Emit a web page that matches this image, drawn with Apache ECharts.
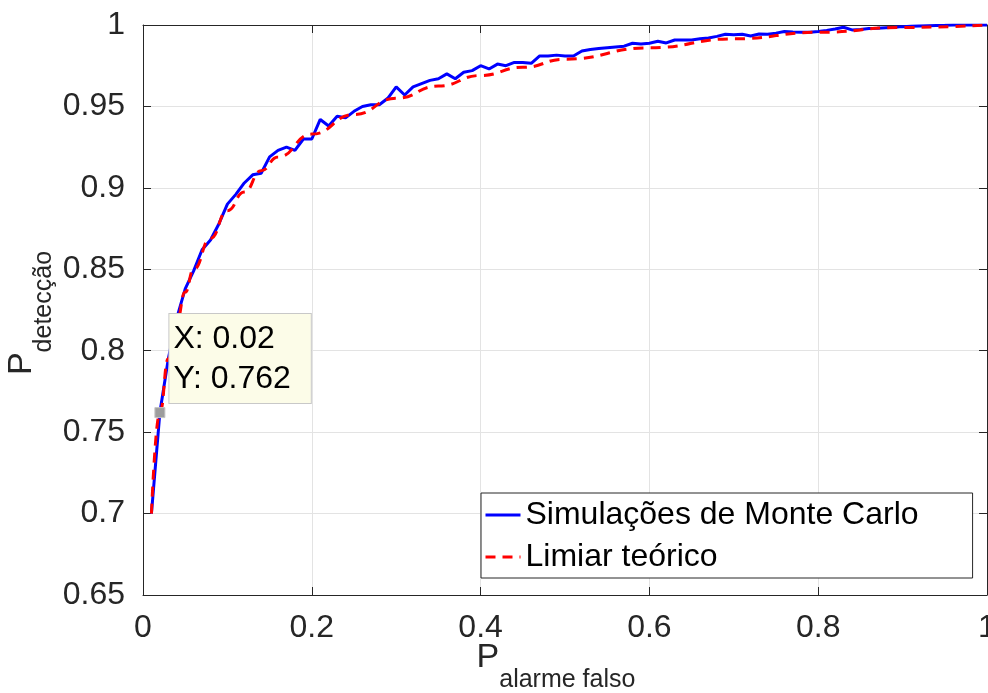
<!DOCTYPE html>
<html>
<head>
<meta charset="utf-8">
<title>Curva ROC</title>
<script src="https://cdn.jsdelivr.net/npm/echarts@6/dist/echarts.min.js"></script>
<style>
  html, body { margin: 0; padding: 0; background: #ffffff; }
  #chart { width: 988px; height: 693px; }
</style>
</head>
<body>
<div id="chart"></div>
<script>
// Probabilidade de alarme falso usada nas simulações
const simX = [
  0.01, 0.02, 0.03, 0.04, 0.05, 0.06, 0.07, 0.08, 0.09, 0.10,
  0.11, 0.12, 0.13, 0.14, 0.15, 0.16, 0.17, 0.18, 0.19, 0.20,
  0.21, 0.22, 0.23, 0.24, 0.25, 0.26, 0.27, 0.28, 0.29, 0.30,
  0.31, 0.32, 0.33, 0.34, 0.35, 0.36, 0.37, 0.38, 0.39, 0.40,
  0.41, 0.42, 0.43, 0.44, 0.45, 0.46, 0.47, 0.48, 0.49, 0.50,
  0.51, 0.52, 0.53, 0.54, 0.55, 0.56, 0.57, 0.58, 0.59, 0.60,
  0.61, 0.62, 0.63, 0.64, 0.65, 0.66, 0.67, 0.68, 0.69, 0.70,
  0.71, 0.72, 0.73, 0.74, 0.75, 0.76, 0.77, 0.78, 0.79, 0.80,
  0.81, 0.82, 0.83, 0.84, 0.85, 0.86, 0.87, 0.88, 0.89, 0.90,
  0.91, 0.92, 0.93, 0.94, 0.95, 0.96, 0.97, 0.98, 0.99, 1.00
];

// Probabilidade de detecção estimada (Monte Carlo)
const simY = [
  0.700, 0.762, 0.795, 0.820, 0.838, 0.849, 0.862, 0.868, 0.878, 0.890,
  0.896, 0.903, 0.908, 0.909, 0.919, 0.923, 0.925, 0.923, 0.930, 0.930,
  0.942, 0.938, 0.944, 0.943, 0.947, 0.950, 0.951, 0.951, 0.955, 0.962,
  0.957, 0.962, 0.964, 0.966, 0.967, 0.970, 0.967, 0.971, 0.972, 0.975,
  0.973, 0.976, 0.975, 0.977, 0.977, 0.9765, 0.981, 0.981, 0.9815, 0.981,
  0.981, 0.984, 0.985, 0.9855, 0.986, 0.9865, 0.987, 0.9888, 0.9883, 0.9888,
  0.990, 0.989, 0.9908, 0.9908, 0.9908, 0.9915, 0.992, 0.993, 0.9943, 0.994,
  0.9943, 0.9932, 0.9945, 0.9943, 0.995, 0.996, 0.9957, 0.9955, 0.9955, 0.996,
  0.9967, 0.9975, 0.9986, 0.997, 0.9972, 0.9978, 0.998, 0.9983, 0.9986, 0.999,
  0.9992, 0.9994, 0.9996, 0.9997, 0.9998, 1.000, 1.000, 1.000, 1.000, 1.000
];

// Curva teórica
const theoX = [0.01, 0.02, 0.03, 0.04, 0.05, 0.06, 0.08, 0.10, 0.12, 0.14, 0.16, 0.20,
               0.25, 0.30, 0.35, 0.40, 0.45, 0.50, 0.60, 0.70, 0.80, 0.90, 1.00];
const theoY = [0.700, 0.762, 0.795, 0.818, 0.836, 0.850, 0.869, 0.886, 0.8975, 0.9105, 0.919, 0.933,
               0.945, 0.955, 0.9625, 0.969, 0.974, 0.979, 0.986, 0.9915, 0.9955, 0.9985, 1.000];

// Ticks dos eixos
const xTicks = { min: 0, max: 1, step: 0.2 };
const yTicks = { min: 0.65, max: 1, step: 0.05 };

const seriesNames = ['Simulações de Monte Carlo', 'Limiar teórico'];

// Ponto destacado (data tip)
const tipIndex = 1;
const tipX = simX[tipIndex];
const tipY = simY[tipIndex];

const FONT = '"Liberation Sans", Arial, Helvetica, sans-serif';
const AX = '#262626';
const GRID = '#e3e3e3';
const FS = 32;

const fmt = v => String(+v.toFixed(2));

const frameAxis = (extra) => Object.assign({
  type: 'value',
  axisLine: { show: true, onZero: false, lineStyle: { color: AX, width: 1 } },
  axisTick: { show: true, inside: true, length: 8, lineStyle: { color: AX, width: 1 } },
  axisLabel: { show: false },
  splitLine: { show: false }
}, extra);

const nameRich = {
  p: { fontSize: 34, fontFamily: FONT, color: AX, verticalAlign: 'top' },
  s: { fontSize: 25, fontFamily: FONT, color: AX, padding: [27, 0, 0, 0], verticalAlign: 'bottom' }
};

const chart = echarts.init(document.getElementById('chart'), null, { renderer: 'canvas' });

chart.setOption({
  animation: false,
  backgroundColor: '#ffffff',
  grid: { left: 143, right: 1, top: 25, bottom: 98, containLabel: false, outerBoundsMode: 'none' },
  xAxis: [
    frameAxis({
      position: 'bottom',
      min: xTicks.min, max: xTicks.max, interval: xTicks.step,
      axisLabel: {
        show: true, fontSize: FS, fontFamily: FONT, color: AX, margin: 17,
        showMinLabel: true, showMaxLabel: true, hideOverlap: false,
        formatter: fmt
      },
      splitLine: { show: true, lineStyle: { color: GRID, width: 1 } },
      name: '{p|P}{s|alarme falso}',
      nameLocation: 'middle',
      nameGap: 46,
      nameMoveOverlap: false,
      nameTextStyle: { rich: nameRich, padding: [0, 18, 0, 0] }
    }),
    frameAxis({ position: 'top', min: xTicks.min, max: xTicks.max, interval: xTicks.step })
  ],
  yAxis: [
    frameAxis({
      position: 'left',
      min: yTicks.min, max: yTicks.max, interval: yTicks.step,
      axisLabel: {
        show: true, fontSize: FS, fontFamily: FONT, color: AX, margin: 18,
        showMinLabel: true, showMaxLabel: true, hideOverlap: false,
        formatter: fmt
      },
      splitLine: { show: true, lineStyle: { color: GRID, width: 1 } },
      name: '{p|P}{s|detecção}',
      nameLocation: 'middle',
      nameRotate: 90,
      nameGap: 86,
      nameMoveOverlap: false,
      nameTextStyle: { rich: nameRich, padding: [0, 6, 0, 0] }
    }),
    frameAxis({ position: 'right', min: yTicks.min, max: yTicks.max, interval: yTicks.step })
  ],
  legend: {
    data: seriesNames,
    orient: 'vertical',
    left: 481,
    top: 493,
    padding: [6, 54, 5, 3],
    itemGap: 10,
    itemWidth: 35,
    itemHeight: 20,
    backgroundColor: '#ffffff',
    borderColor: AX,
    borderWidth: 1,
    borderRadius: 0,
    itemStyle: { opacity: 0 },
    lineStyle: { width: 3 },
    textStyle: { fontSize: FS, fontFamily: FONT, color: '#000000' },
    selectedMode: false
  },
  series: [
    {
      name: seriesNames[0],
      type: 'line',
      data: simX.map((x, i) => [x, simY[i]]),
      symbol: 'none',
      showSymbol: false,
      lineStyle: { color: '#0000ff', width: 3 },
      itemStyle: { color: '#0000ff' },
      z: 2
    },
    {
      name: seriesNames[1],
      type: 'line',
      data: theoX.map((x, i) => [x, theoY[i]]),
      smooth: true,
      smoothMonotone: 'x',
      symbol: 'none',
      showSymbol: false,
      lineStyle: { color: '#ff0000', width: 3, type: [10, 7] },
      itemStyle: { color: '#ff0000' },
      z: 3,
      markPoint: {
        symbol: 'rect',
        symbolSize: 10,
        itemStyle: { color: '#9d9d9d', borderColor: '#c4c4c4', borderWidth: 1 },
        label: {
          show: true,
          position: [15, -93],
          align: 'left',
          verticalAlign: 'top',
          formatter: () => 'X: ' + tipX + '\nY: ' + tipY,
          fontSize: FS,
          lineHeight: 40,
          fontFamily: FONT,
          color: '#000000',
          backgroundColor: '#fcfce8',
          borderColor: '#c8c8c8',
          borderWidth: 1,
          padding: [5, 20, 4, 4]
        },
        data: [{ coord: [tipX, tipY] }]
      }
    }
  ]
});
</script>
</body>
</html>
